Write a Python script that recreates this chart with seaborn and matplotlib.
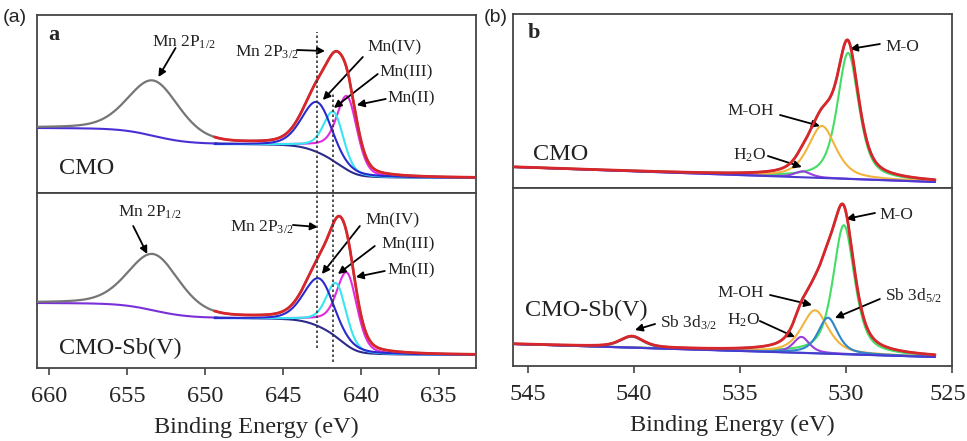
import numpy as np
import seaborn as sns
import matplotlib.pyplot as plt
from matplotlib.transforms import ScaledTranslation

# ---------------- panel (a): Mn 2p ----------------
mn_window = [632.6, 660.8]
mn_split = 649.4           # boundary between the 2p1/2 and 2p3/2 fit windows
mn_eta = 0.3

# order: Mn 2P1/2, Mn(IV), Mn(III), Mn(II)
mn_centre_cmo = [653.3, 642.7, 641.67, 640.83]
mn_height_cmo = [55, 58, 48, 64]
mn_fwhm_cmo = [3.9, 2.4, 1.5, 1.5]
mn_bg_cmo = [65, 49, 15]   # high-BE side, between lines, low-BE side

mn_centre_sb = [653.3, 642.56, 641.5, 640.83]
mn_height_sb = [56, 57, 52, 63]
mn_fwhm_sb = [3.9, 2.4, 1.5, 1.5]
mn_bg_sb = [65, 50, 13]

mn_dashed = [642.82, 641.79]

# ---------------- panel (b): O 1s ----------------
o_window = [525.8, 545.7]
o_eta = 0.6
# order: M-O, M-OH, H2O
o_centre_cmo = [529.9, 531.13, 532.03]
o_height_cmo = [126, 52, 6]
o_fwhm_cmo = [1.2, 1.55, 0.9]
o_bg_cmo = [6, 21]         # low-BE end, high-BE end

# order: M-O, M-OH, H2O, Sb 3d5/2, Sb 3d3/2
o_centre_sb = [530.1, 531.46, 532.1, 530.85, 540.1]
o_height_sb = [129, 43, 16, 36, 11]
o_fwhm_sb = [1.2, 1.5, 0.9, 1.1, 1.3]
o_bg_sb = [9, 22]

RED = '#d8262a'
GREY = '#767676'


def pv(e, c, h, w, eta):
    x = (e - c) / w
    return h * (eta / (1 + 4 * x**2) + (1 - eta) * np.exp(-4 * np.log(2) * x**2))


def frac(y):
    c = np.cumsum(y)
    return c / c[-1]


def line(ax, x, y, color, lw=1.5, z=2):
    sns.lineplot(x=x, y=y, ax=ax, color=color, lw=lw, zorder=z, sort=False, estimator=None)


def arrow(ax, head, tail):
    ax.annotate('', xy=head, xytext=tail,
                arrowprops=dict(arrowstyle='-|>', color='k', lw=1.3, mutation_scale=11,
                                shrinkA=0, shrinkB=0))


def label(ax, pos, s, size=12.5):
    ax.text(pos[0], pos[1], s, fontsize=size, ha='left', va='center', color='#222')


def mn_panel(ax, centre, height, fwhm, bg, left_bg_col):
    e = np.linspace(mn_window[0], mn_window[1], 1500)
    p12 = pv(e, centre[0], height[0], fwhm[0], mn_eta)
    comps = [pv(e, centre[i], height[i], fwhm[i], mn_eta) for i in range(1, 4)]
    s32 = sum(comps)
    bg_tot = bg[2] + (bg[1] - bg[2]) * frac(s32) + (bg[0] - bg[1]) * frac(p12)
    total = bg_tot + p12 + s32
    r1 = e >= mn_split - 0.2
    r2 = e <= mn_split
    line(ax, e[r1], bg_tot[r1], left_bg_col)
    line(ax, e[r2], bg_tot[r2], '#2c2a8c')
    for comp, col in zip(comps[::-1], ['#e22be0', '#36e6f0', '#2a2ad0']):
        own = bg[2] + (bg[1] - bg[2]) * frac(comp) + comp
        line(ax, e[r2], own[r2], col)
    line(ax, e, total, GREY, lw=1.6, z=3)
    line(ax, e[r2], total[r2], RED, lw=2.0, z=4)
    ax.set_xlim(mn_window[1], mn_window[0])


def o_panel(ax, centre, height, fwhm, bg, colors):
    e = np.linspace(o_window[0], o_window[1], 1500)
    base = bg[0] + (bg[1] - bg[0]) * (e - e[0]) / (e[-1] - e[0])
    comps = [pv(e, c, h, w, o_eta) for c, h, w in zip(centre, height, fwhm)]
    for comp, col in zip(comps, colors):
        line(ax, e, base + comp, col)
    line(ax, e, base, '#4a3ad0', z=2.5)
    total = base + sum(comps)
    line(ax, e, total, GREY, lw=1.6, z=3)
    line(ax, e, total, RED, lw=2.0, z=4)
    ax.set_xlim(545.7, 525.0)


sns.set_style('white')
plt.rcParams['font.family'] = ['Liberation Serif', 'DejaVu Serif']
plt.rcParams['mathtext.default'] = 'regular'

fig = plt.figure(figsize=(9.67, 4.41), dpi=100)
ax_a1 = fig.add_axes([0.03826, 0.56236, 0.45398, 0.40363])
ax_a2 = fig.add_axes([0.03826, 0.16553, 0.45398, 0.39683])
ax_b1 = fig.add_axes([0.5305, 0.5737, 0.45398, 0.39456])
ax_b2 = fig.add_axes([0.5305, 0.17007, 0.45398, 0.40363])

mn_panel(ax_a1, mn_centre_cmo, mn_height_cmo, mn_fwhm_cmo, mn_bg_cmo, '#4a30d4')
mn_panel(ax_a2, mn_centre_sb, mn_height_sb, mn_fwhm_sb, mn_bg_sb, '#7a30d8')
ax_a1.set_ylim(0, 178)
ax_a2.set_ylim(0, 175)

o_panel(ax_b1, o_centre_cmo, o_height_cmo, o_fwhm_cmo, o_bg_cmo,
        ['#44dd66', '#f2b43c', '#9a3de0'])
o_panel(ax_b2, o_centre_sb, o_height_sb, o_fwhm_sb, o_bg_sb,
        ['#44dd66', '#f2b43c', '#9a3de0', '#2f86c8', '#2f86c8'])
ax_b1.set_ylim(0, 174)
ax_b2.set_ylim(0, 178)

for ax in [ax_a1, ax_a2, ax_b1, ax_b2]:
    ax.set_ylabel('')
    ax.set_yticks([])
    for sp in ax.spines.values():
        sp.set_color('#444444')
        sp.set_linewidth(1.3)
for ax in [ax_a1, ax_b1]:
    ax.tick_params(bottom=False, labelbottom=False)
    ax.set_xlabel('')
for ax in [ax_a2, ax_b2]:
    ax.tick_params(axis='x', bottom=True, direction='out', length=5, width=1.2,
                   color='#444444', labelsize=17.5, pad=8)
    ax.set_xlabel('Binding Energy (eV)', fontsize=17.5, labelpad=7)
ax_a2.set_xticks([660, 655, 650, 645, 640, 635])
ax_b2.set_xticks([545, 540, 535, 530, 525])
# keep the last tick label inside the canvas
last = ax_b2.get_xticklabels()[-1]
last.set_transform(last.get_transform() + ScaledTranslation(-3 / 72, 0, fig.dpi_scale_trans))

# dotted reference lines running through both Mn subplots
tr = ax_a2.get_xaxis_transform()
ax_a2.plot([mn_dashed[0]] * 2, [0.114, 1.92], transform=tr, clip_on=False,
           color='#333333', ls=(0, (1.5, 1.5)), lw=1.2, zorder=5)
ax_a2.plot([mn_dashed[1]] * 2, [0.034, 1.577], transform=tr, clip_on=False,
           color='#333333', ls=(0, (1.5, 1.5)), lw=1.2, zorder=5)

# ---- panel a labels ----
ax_a1.text(0.025, 0.885, 'a', transform=ax_a1.transAxes, fontsize=16, fontweight='bold', va='center')
label(ax_a1, (659.4, 24), 'CMO', 17.5)
label(ax_a1, (653.4, 151), 'Mn 2P$_{1/2}$')
arrow(ax_a1, (653.0, 116), (651.9, 145))
label(ax_a1, (648.1, 141), 'Mn 2P$_{3/2}$')
arrow(ax_a1, (642.3, 142), (644.1, 143))
label(ax_a1, (639.6, 146), 'Mn(IV)')
arrow(ax_a1, (642.44, 93), (639.87, 136))
label(ax_a1, (638.8, 121), 'Mn(III)')
arrow(ax_a1, (641.73, 85), (638.91, 119))
label(ax_a1, (638.27, 95), 'Mn(II)')
arrow(ax_a1, (640.26, 88), (638.4, 94))

label(ax_a2, (659.4, 20), 'CMO-Sb(V)', 17.5)
label(ax_a2, (655.6, 156), 'Mn 2P$_{1/2}$')
arrow(ax_a2, (653.72, 114), (654.62, 142))
label(ax_a2, (648.4, 141), 'Mn 2P$_{3/2}$')
arrow(ax_a2, (642.76, 141), (644.36, 143))
label(ax_a2, (639.68, 148), 'Mn(IV)')
arrow(ax_a2, (642.5, 94), (640.06, 142))
label(ax_a2, (638.65, 124), 'Mn(III)')
arrow(ax_a2, (641.47, 94), (639.1, 122))
label(ax_a2, (638.27, 98), 'Mn(II)')
arrow(ax_a2, (640.32, 91), (638.46, 97))

# ---- panel b labels ----
ax_b1.text(0.034, 0.89, 'b', transform=ax_b1.transAxes, fontsize=16, fontweight='bold', va='center')
label(ax_b1, (544.76, 33), 'CMO', 17.5)
label(ax_b1, (528.16, 141), 'M-O')
arrow(ax_b1, (529.81, 139), (528.4, 144))
label(ax_b1, (535.61, 77), 'M-OH')
arrow(ax_b1, (531.23, 62), (533.11, 73))
label(ax_b1, (535.33, 33), 'H$_2$O')
arrow(ax_b1, (532.08, 21), (533.68, 32))

label(ax_b2, (545.14, 56), 'CMO-Sb(V)', 17.5)
label(ax_b2, (528.4, 151), 'M-O')
arrow(ax_b2, (530.0, 147), (528.63, 153))
label(ax_b2, (536.08, 73), 'M-OH')
arrow(ax_b2, (531.6, 61), (533.58, 71))
label(ax_b2, (528.16, 70), 'Sb 3d$_{5/2}$')
arrow(ax_b2, (530.52, 48), (528.4, 67))
label(ax_b2, (535.61, 46), 'H$_2$O')
arrow(ax_b2, (532.41, 29), (534.06, 45))
label(ax_b2, (538.77, 43), 'Sb 3d$_{3/2}$')
arrow(ax_b2, (539.95, 36), (539.0, 42))

fig.text(0.003, 0.96, '(a)', fontsize=14, family=['Liberation Sans', 'DejaVu Sans'], va='center')
fig.text(0.5, 0.96, '(b)', fontsize=14, family=['Liberation Sans', 'DejaVu Sans'], va='center')

fig.savefig('out.png', dpi=100)
